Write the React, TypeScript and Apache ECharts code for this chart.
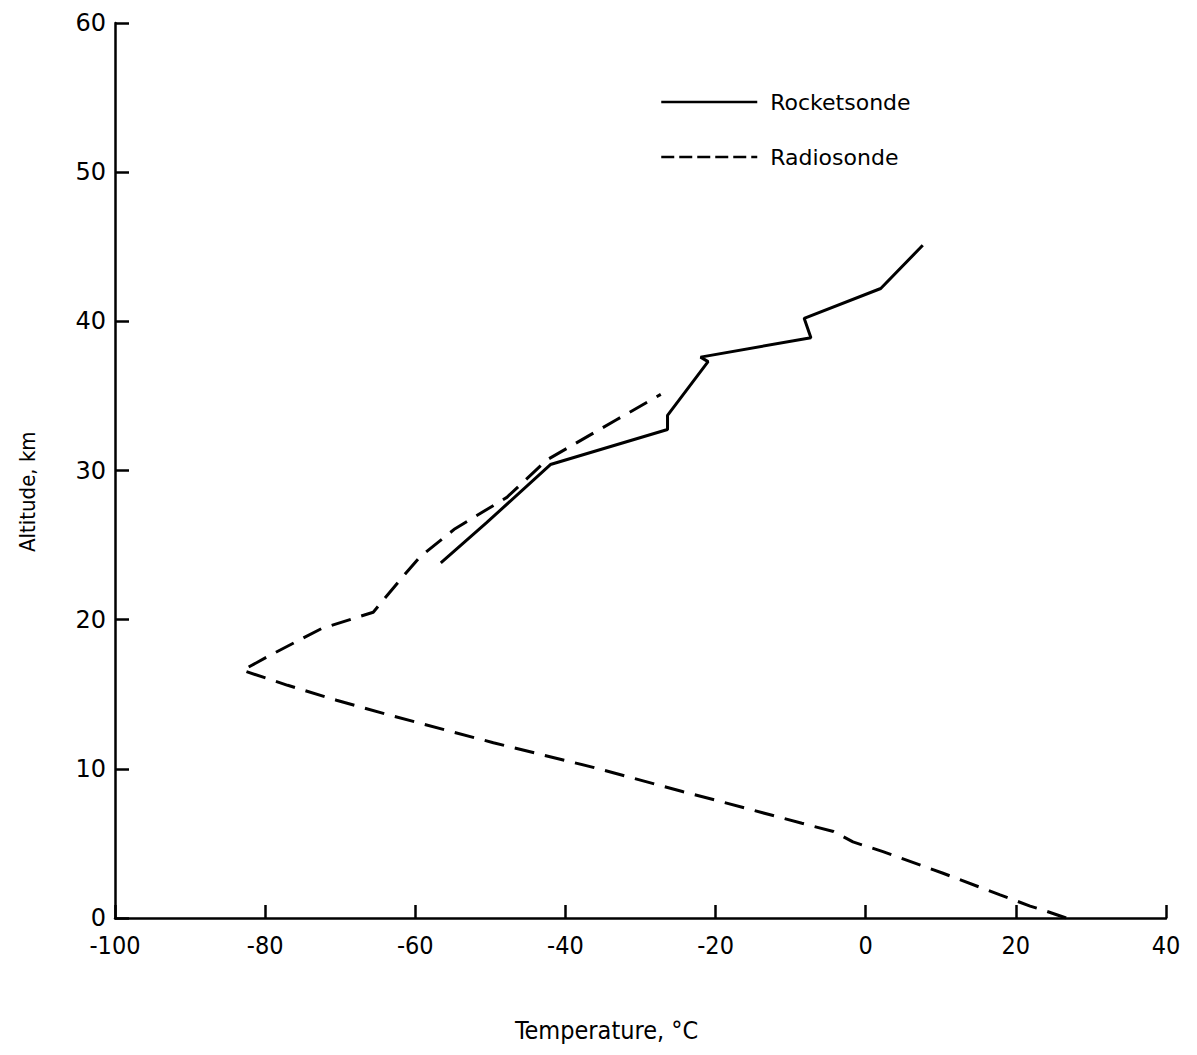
import React, { useEffect, useRef } from "react";
import * as echarts from "echarts";

// Temperature (°C), Altitude (km)
const rocketTemp = [-56.6, -50.5, -42.0, -26.4, -26.4, -21.0, -22.0, -7.3, -8.2, 2.0, 7.6];
const rocketAlt = [23.8, 26.5, 30.4, 32.75, 33.7, 37.3, 37.6, 38.9, 40.2, 42.2, 45.1];

const radioTemp = [26.7, 24.1, 21.9, 17.9, 10.3, 2.3, -1.7, -4.3, -8.5, -20.0, -24.3, -36.3, -49.6, -63.4, -70.5, -77.0, -83.0, -79.4, -72.5, -65.6, -61.8, -59.4, -54.7, -47.8, -42.5, -39.4, -33.2, -27.3];
const radioAlt = [0, 0.45, 0.8, 1.55, 3.0, 4.45, 5.1, 5.8, 6.35, 7.9, 8.46, 10.1, 11.75, 13.6, 14.6, 15.6, 16.6, 17.6, 19.4, 20.5, 22.8, 24.2, 26.1, 28.2, 30.7, 31.6, 33.4, 35.1];

const xTicks = [-100, -80, -60, -40, -20, 0, 20, 40];
const yTicks = [0, 10, 20, 30, 40, 50, 60];
const seriesNames = ["Rocketsonde", "Radiosonde"];
const xTitle = "Temperature, °C";
const yTitle = "Altitude, km";

export default function App() {
  const ref = useRef<HTMLDivElement>(null);
  useEffect(() => {
    if (!ref.current) return;
    const chart = echarts.init(ref.current, undefined, { renderer: "svg" });
    const rocket = rocketTemp.map((t, i) => [t, rocketAlt[i]]);
    const radio = radioTemp.map((t, i) => [t, radioAlt[i]]);
    const axisLine = { onZero: false, lineStyle: { color: "#000", width: 2.5 } };
    chart.setOption({
      animation: false,
      backgroundColor: "#fff",
      grid: { left: 115, right: 31, top: 23, bottom: 137, containLabel: false },
      legend: {
        orient: "vertical",
        left: 655,
        top: 86,
        itemWidth: 96,
        itemHeight: 16,
        itemGap: 33,
        itemStyle: { opacity: 0 },
        data: [
          { name: seriesNames[0], lineStyle: { type: "solid", width: 2.5 } },
          { name: seriesNames[1], lineStyle: { type: [13, 5], width: 2.5 } },
        ],
        textStyle: { fontSize: 22, color: "#000", fontFamily: "'DejaVu Sans', sans-serif", padding: [0, 0, 0, 8] },
      },
      xAxis: {
        type: "value",
        min: xTicks[0],
        max: xTicks[xTicks.length - 1],
        interval: 20,
        splitLine: { show: false },
        axisLine,
        axisTick: { show: true, inside: true, length: 13, lineStyle: { color: "#000", width: 2.5 } },
        axisLabel: {
          fontSize: 25,
          color: "#000",
          margin: 15,
          lineHeight: 24,
          fontFamily: "'DejaVu Sans Condensed', 'Liberation Sans Narrow', 'DejaVu Sans', sans-serif",
        },
      },
      yAxis: {
        type: "value",
        min: yTicks[0],
        max: yTicks[yTicks.length - 1],
        interval: 10,
        splitLine: { show: false },
        axisLine,
        axisTick: { show: true, inside: true, length: 14, lineStyle: { color: "#000", width: 2.5 } },
        axisLabel: {
          fontSize: 24,
          color: "#000",
          margin: 9,
          verticalAlign: "bottom",
          lineHeight: 18,
          padding: [0, 0, -9, 0],
          fontFamily: "'DejaVu Sans', sans-serif",
        },
      },
      graphic: [
        {
          type: "text",
          left: 515,
          top: 1018,
          style: { text: xTitle, fontSize: 25, fill: "#000", fontFamily: "'DejaVu Sans Condensed', 'Liberation Sans Narrow', 'DejaVu Sans', sans-serif" },
        },
        {
          type: "text",
          x: 16,
          y: 552,
          rotation: Math.PI / 2,
          style: { text: yTitle, fontSize: 22, fill: "#000", fontFamily: "'DejaVu Sans Condensed', 'Liberation Sans Narrow', 'DejaVu Sans', sans-serif" },
        },
      ],
      series: [
        {
          name: seriesNames[0],
          type: "line",
          data: rocket,
          symbol: "none",
          lineStyle: { color: "#000", width: 3, type: "solid" },
          itemStyle: { color: "#000" },
        },
        {
          name: seriesNames[1],
          type: "line",
          data: radio,
          symbol: "none",
          lineStyle: { color: "#000", width: 3, type: [20, 11] },
          itemStyle: { color: "#000" },
        },
      ],
    });
    return () => chart.dispose();
  }, []);
  return <div ref={ref} style={{ width: 1197, height: 1055, marginLeft: -8, marginTop: -8 }} />;
}
